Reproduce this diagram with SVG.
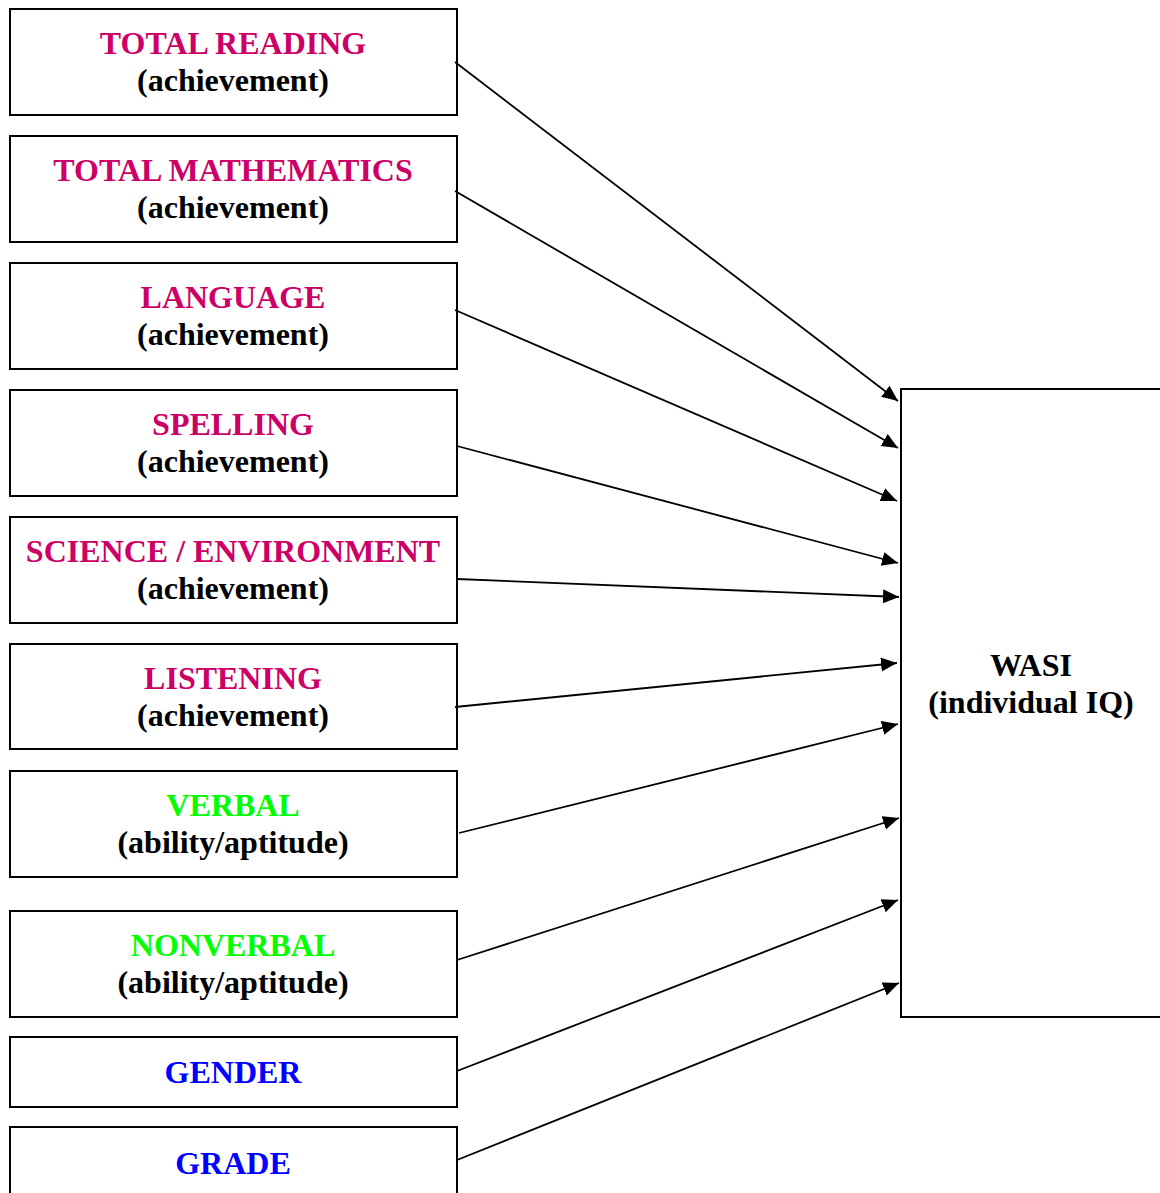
<svg xmlns="http://www.w3.org/2000/svg" width="1160" height="1193" viewBox="0 0 1160 1193">
<style>
.box{fill:#fff;stroke:#000;stroke-width:2}
text{font-family:"Liberation Serif","Times New Roman",serif;font-weight:bold;font-size:32px;text-anchor:middle}
.ach{fill:#CC0066}
.abl{fill:#00FF00}
.dem{fill:#0000FF}
.blk{fill:#000}
.conn line{stroke:#000;stroke-width:1.8;marker-end:url(#ah)}
</style>
<defs>
<marker id="ah" markerUnits="userSpaceOnUse" markerWidth="17" markerHeight="15" refX="16" refY="7" orient="auto">
<path d="M0,0 L16,7 L0,14 z" fill="#000"/>
</marker>
</defs>
<rect width="1160" height="1193" fill="#fff"/>
<g id="n1"><rect class="box" x="10" y="9" width="447" height="106"/><text x="233" y="54" class="ach">TOTAL READING</text><text x="233" y="91" class="blk">(achievement)</text></g>
<g id="n2"><rect class="box" x="10" y="136" width="447" height="106"/><text x="233" y="181" class="ach">TOTAL MATHEMATICS</text><text x="233" y="218" class="blk">(achievement)</text></g>
<g id="n3"><rect class="box" x="10" y="263" width="447" height="106"/><text x="233" y="308" class="ach">LANGUAGE</text><text x="233" y="345" class="blk">(achievement)</text></g>
<g id="n4"><rect class="box" x="10" y="390" width="447" height="106"/><text x="233" y="435" class="ach">SPELLING</text><text x="233" y="472" class="blk">(achievement)</text></g>
<g id="n5"><rect class="box" x="10" y="517" width="447" height="106"/><text x="233" y="562" class="ach">SCIENCE / ENVIRONMENT</text><text x="233" y="599" class="blk">(achievement)</text></g>
<g id="n6"><rect class="box" x="10" y="644" width="447" height="105"/><text x="233" y="689" class="ach">LISTENING</text><text x="233" y="726" class="blk">(achievement)</text></g>
<g id="n7"><rect class="box" x="10" y="771" width="447" height="106"/><text x="233" y="816" class="abl">VERBAL</text><text x="233" y="853" class="blk">(ability/aptitude)</text></g>
<g id="n8"><rect class="box" x="10" y="911" width="447" height="106"/><text x="233" y="956" class="abl">NONVERBAL</text><text x="233" y="993" class="blk">(ability/aptitude)</text></g>
<g id="n9"><rect class="box" x="10" y="1037" width="447" height="70"/><text x="233" y="1083" class="dem">GENDER</text></g>
<g id="n10"><rect class="box" x="10" y="1127" width="447" height="80"/><text x="233" y="1174" class="dem">GRADE</text></g>
<g id="wasi"><rect class="box" x="901" y="389" width="262" height="628"/><text x="1031" y="676" class="blk">WASI</text><text x="1031" y="713" class="blk">(individual IQ)</text></g>
<g id="connectors" class="conn">
<line x1="455" y1="62" x2="898" y2="401"/>
<line x1="455" y1="191" x2="898" y2="448"/>
<line x1="455" y1="310" x2="897" y2="501"/>
<line x1="457" y1="446" x2="898" y2="563"/>
<line x1="457" y1="579" x2="899" y2="597"/>
<line x1="455" y1="707" x2="897" y2="663"/>
<line x1="459" y1="833" x2="898" y2="724"/>
<line x1="457" y1="960" x2="899" y2="818"/>
<line x1="457" y1="1071" x2="898" y2="900"/>
<line x1="457" y1="1160" x2="899" y2="983"/>
</g>
</svg>
